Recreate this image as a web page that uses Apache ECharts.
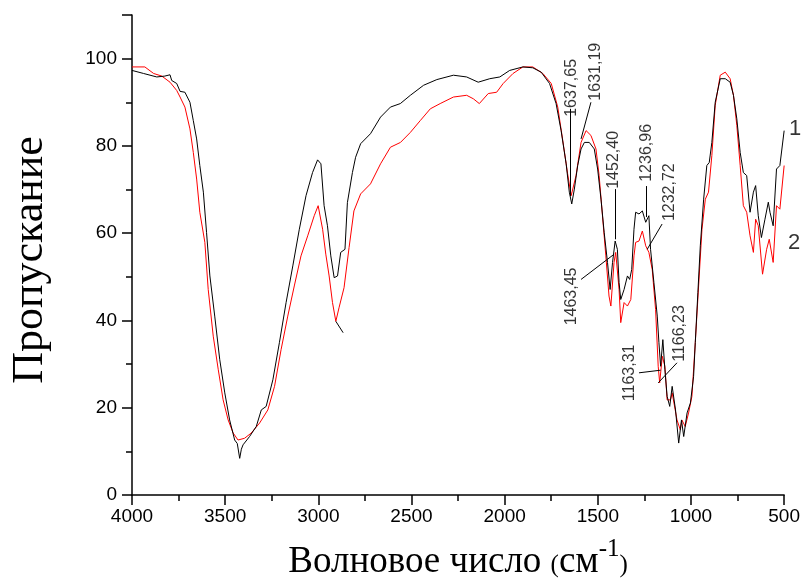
<!DOCTYPE html>
<html>
<head>
<meta charset="utf-8">
<script src="https://cdn.jsdelivr.net/npm/echarts@6/dist/echarts.min.js"></script>
<style>html,body{margin:0;padding:0;background:#fff}#c{width:803px;height:586px}</style>
</head>
<body>
<div id="c"></div>
<script>
// Spectrum 1 (black)
var wn1 = [4000,3938,3867,3824,3796,3787,3760,3742,3716,3689,3671,3653,3636,3617,3600,3582,3556,3529,3502,3476,3449,3435,3422,3413,3404,3369,3333,3306,3280,3244,3209,3173,3137,3102,3066,3031,3004,2986,2969,2951,2933,2915,2897,2880,2857,2844,2817,2800,2773,2720,2666,2613,2560,2506,2435,2364,2275,2204,2142,2080,2026,1973,1902,1849,1804,1759,1724,1697,1670,1653,1640,1626,1608,1590,1572,1546,1519,1501,1483,1466,1448,1434,1421,1407,1395,1386,1377,1359,1341,1329,1318,1306,1297,1279,1261,1243,1226,1217,1199,1181,1172,1163,1151,1140,1128,1114,1101,1083,1066,1051,1039,1021,1003,986,977,963,950,932,915,902,888,870,843,816,790,772,754,736,719,701,683,665,653,639,622,603,585,576,559,541,523,500];
var t1 = [97.3,96.6,95.8,96.0,96.3,95.0,94.3,92.5,92.3,90.0,85.8,81.6,75.5,69.4,60.2,50.2,41.0,31.0,23.4,17.2,12.6,11.8,8.4,10.5,11.5,13.4,15.7,19.5,20.3,26.4,34.9,44.1,52.5,60.9,68.6,73.9,76.8,75.9,66.3,61.7,54.8,49.8,50.2,55.6,56.3,67.0,73.9,77.4,80.5,82.8,86.6,88.9,89.7,91.6,93.9,95.2,96.2,95.8,94.6,95.4,95.8,97.3,98.1,97.9,96.9,94.3,89.7,83.5,75.9,69.4,66.7,70.1,75.5,79.3,80.8,80.8,79.3,74.7,67.8,60.2,53.3,47.1,53.3,58.2,56.3,48.7,44.8,47.1,50.2,49.4,51.7,60.9,64.8,64.4,65.1,62.5,64.0,56.3,48.7,41.0,34.9,29.5,35.6,28.7,22.6,20.3,24.9,19.5,11.9,17.2,13.4,18.8,21.1,27.2,34.9,46.4,57.1,67.8,75.5,76.2,80.8,90.0,95.4,95.4,94.6,91.6,86.2,78.5,73.9,73.2,64.8,69.4,70.9,64.0,59.0,63.2,67.1,64.8,61.7,74.7,75.5,83.5];
// Spectrum 2 (red)
var wn2 = [4000,3931,3884,3840,3796,3760,3742,3716,3689,3671,3653,3636,3609,3591,3564,3537,3511,3484,3457,3431,3396,3360,3315,3271,3235,3200,3164,3129,3093,3057,3022,3001,2977,2960,2942,2924,2906,2889,2862,2835,2809,2773,2720,2666,2613,2559,2506,2453,2399,2346,2275,2204,2168,2136,2088,2043,2008,1955,1902,1849,1795,1750,1715,1688,1662,1643,1617,1590,1563,1537,1510,1493,1475,1457,1440,1430,1413,1404,1386,1377,1359,1341,1323,1306,1297,1279,1261,1243,1226,1208,1190,1176,1168,1154,1140,1128,1110,1101,1075,1057,1049,1031,1013,995,977,959,941,923,906,888,870,843,816,790,772,754,736,719,701,683,665,653,639,616,594,580,559,541,523,500];
var t2 = [98.1,98.1,96.6,96.0,94.6,92.7,91.2,88.9,83.9,78.5,72.4,64.8,57.9,47.1,36.4,28.7,21.8,17.2,14.2,12.6,13.0,14.2,16.5,19.5,24.9,33.3,41.0,47.9,54.8,59.4,64.0,66.3,60.9,55.2,50.2,44.1,39.8,42.9,47.5,56.7,65.1,69.0,71.3,75.9,79.7,80.8,83.1,85.8,88.5,89.7,91.2,91.6,90.8,89.7,92.0,92.3,94.3,96.6,98.1,98.1,96.6,94.3,88.9,81.2,73.6,68.6,73.2,80.8,83.5,82.4,79.3,73.2,64.0,54.8,45.6,43.3,53.3,55.6,47.1,39.5,44.1,43.3,44.8,54.8,57.9,58.2,60.5,57.1,55.6,51.7,42.5,29.5,25.7,31.8,29.5,21.8,21.8,23.4,17.2,14.9,17.2,15.7,18.8,22.6,34.9,47.9,60.9,67.8,69.4,77.8,89.3,96.2,96.9,95.4,91.6,84.7,75.5,66.3,64.8,59.4,55.6,63.2,61.7,50.6,56.3,58.6,53.3,66.3,65.5,75.5];

// Peak annotations: text, text anchor (wavenumber, T), leader line from/to
var peakText = ['1637,65','1631,19','1452,40','1463,45','1236,96','1232,72','1166,23','1163,31'];
var peakTextWn = [1639,1514,1415,1639,1239,1114,1063,1330];
var peakTextT  = [93.3,97.0,76.8,45.5,78.4,69.4,37.0,28.0];
var leadFromWn = [1647,1537,1409,1590,1238,1155,1075,1279,2906];
var leadFromT  = [88.5,90.0,70.1,49.4,70.8,62.1,30.3,28.0,39.8];
var leadToWn   = [1647,1590,1409,1412,1238,1235,1176,1163,2867];
var leadToT    = [68.5,81.6,58.6,55.2,63.7,56.3,25.7,28.6,37.2];

// Curve number labels
var curveNames = ['1','2'];
var curveNameWn = [441,446];
var curveNameT  = [83.9,57.7];

var xTicks = [4000,3500,3000,2500,2000,1500,1000,500];
var yTicks = [0,20,40,60,80,100];

function zip(a,b){var r=[];for(var i=0;i<a.length;i++)r.push([a[i],b[i]]);return r;}

var chart = echarts.init(document.getElementById('c'), null, {renderer:'canvas'});
var sans = 'Liberation Sans';
var serif = 'Liberation Serif';

var leaders = [];
for (var i=0;i<leadFromWn.length;i++) leaders.push({coords:[[leadFromWn[i],leadFromT[i]],[leadToWn[i],leadToT[i]]]});
var peakPts = [];
for (var j=0;j<peakText.length;j++) peakPts.push({name:peakText[j], value:[peakTextWn[j],peakTextT[j]]});
var curvePts = [];
for (var k=0;k<curveNames.length;k++) curvePts.push({name:curveNames[k], value:[curveNameWn[k],curveNameT[k]]});

chart.setOption({
  animation:false,
  backgroundColor:'#fff',
  grid:{left:130,right:17,top:15,bottom:91,containLabel:false},
  xAxis:{
    type:'value', inverse:true, min:500, max:4000, interval:500,
    axisLine:{show:true,onZero:false,lineStyle:{color:'#000',width:1.5}},
    axisTick:{show:true,length:10,lineStyle:{color:'#000',width:1.5}},
    minorTick:{show:true,splitNumber:2,length:6,lineStyle:{color:'#000',width:1.5}},
    splitLine:{show:false},
    axisLabel:{color:'#000',fontFamily:sans,fontSize:19,margin:12,
      formatter:function(v){return xTicks.indexOf(v)>=0?String(v):'';}},
    name:'{a|Волновое число }{p|(}{a|см}{s|-1}{p|)}',
    nameLocation:'middle', nameGap:42,
    nameTextStyle:{color:'#000',fontFamily:serif,
      rich:{
        a:{fontFamily:serif,fontSize:37,color:'#000',verticalAlign:'bottom',lineHeight:44},
        p:{fontFamily:serif,fontSize:25,color:'#000',verticalAlign:'bottom',lineHeight:44,padding:[0,0,3,0]},
        s:{fontFamily:serif,fontSize:25,color:'#000',verticalAlign:'top',lineHeight:44}
      }}
  },
  yAxis:{
    type:'value', min:0, max:110, interval:20,
    axisLine:{show:true,lineStyle:{color:'#000',width:1.5}},
    axisTick:{show:true,length:10,lineStyle:{color:'#000',width:1.5}},
    minorTick:{show:true,splitNumber:2,length:6,lineStyle:{color:'#000',width:1.5}},
    splitLine:{show:false},
    axisLabel:{color:'#000',fontFamily:sans,fontSize:19,margin:15,
      formatter:function(v){return yTicks.indexOf(v)>=0?String(v):'';}},
    name:'Пропускание', nameLocation:'middle', nameGap:80, nameRotate:90,
    nameTextStyle:{color:'#000',fontFamily:serif,fontSize:44,padding:[0,10,0,0]}
  },
  series:[
    {type:'line', data:zip(wn2,t2), showSymbol:false, symbol:'none',
     lineStyle:{color:'#ff0000',width:1}, z:2},
    {type:'line', data:zip(wn1,t1), showSymbol:false, symbol:'none',
     lineStyle:{color:'#000',width:1}, z:3},
    {type:'lines', coordinateSystem:'cartesian2d', data:leaders, z:4,
     lineStyle:{color:'#000',width:1,opacity:1}},
    {type:'scatter', data:peakPts, symbolSize:0, z:5,
     label:{show:true, position:'inside', rotate:90, formatter:'{b}',
       color:'#000', fontFamily:sans, fontSize:16}},
    {type:'scatter', data:curvePts, symbolSize:0, z:5, clip:false,
     label:{show:true, position:'inside', formatter:'{b}',
       color:'#000', fontFamily:sans, fontSize:22}}
  ]
});
</script>
</body>
</html>
